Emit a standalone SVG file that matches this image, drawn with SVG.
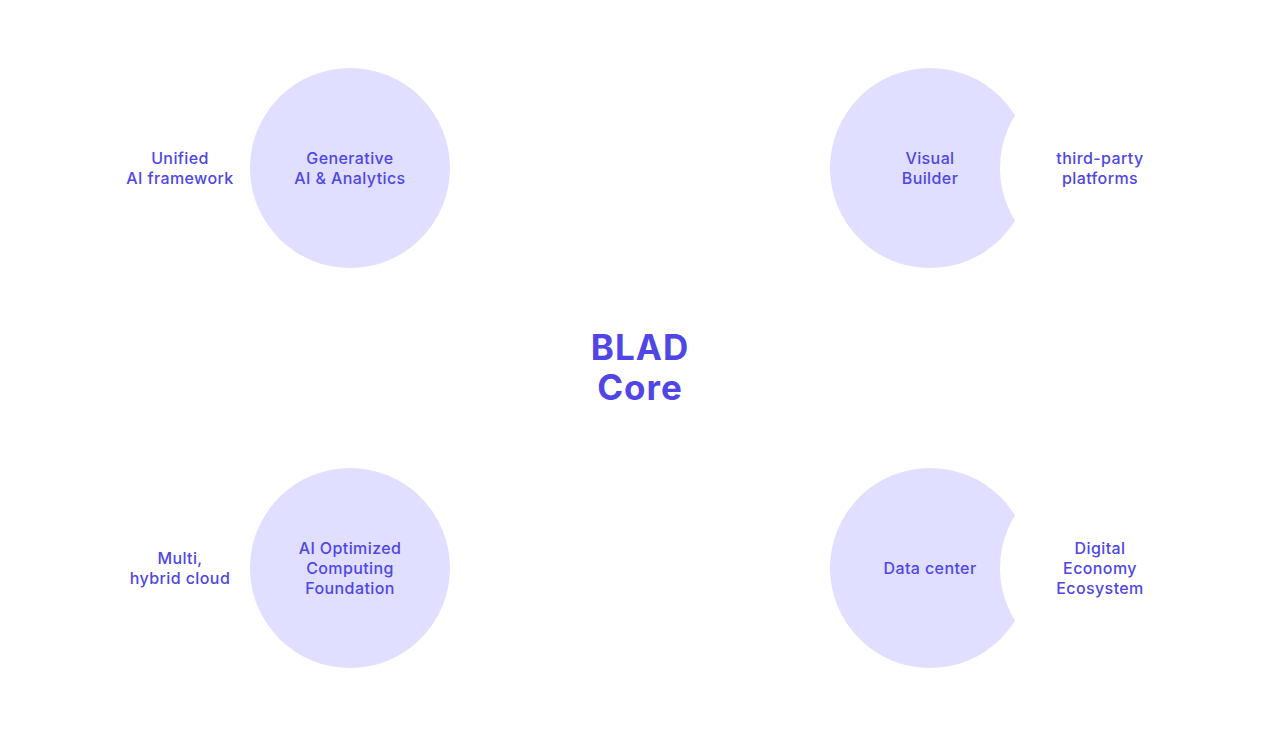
<svg xmlns="http://www.w3.org/2000/svg" width="1280" height="736" viewBox="0 0 1280 736">
<defs>
<style>
.bg{fill:#ffffff}
.main{fill:#e0dfff}
.sat{fill:#ffffff}
.lbl{font-family:Inter,"Open Sans",sans-serif;font-size:16px;font-weight:500;fill:#4f46e5;text-anchor:middle;letter-spacing:0.4px}
.core{font-family:Inter,"Open Sans",sans-serif;font-size:35px;font-weight:700;fill:#4f46e5;text-anchor:middle;letter-spacing:1px}
</style>
</defs>
<rect class="bg" width="1280" height="736"/>
<g id="connectors"></g>
<g id="core">
<text class="core" x="640" y="360">BLAD</text>
<text class="core" x="640" y="400">Core</text>
</g>
<g id="node-genai">
<circle class="sat" cx="180" cy="168" r="100"/>
<circle class="main" cx="350" cy="168" r="100"/>
<text class="lbl" x="350" y="164">Generative</text>
<text class="lbl" x="350" y="184">AI &amp; Analytics</text>
<text class="lbl" x="180" y="164">Unified</text>
<text class="lbl" x="180" y="184">AI framework</text>
</g>
<g id="node-visual">
<circle class="main" cx="930" cy="168" r="100"/>
<circle class="sat" cx="1100" cy="168" r="100"/>
<text class="lbl" x="930" y="164">Visual</text>
<text class="lbl" x="930" y="184">Builder</text>
<text class="lbl" x="1100" y="164">third-party</text>
<text class="lbl" x="1100" y="184">platforms</text>
</g>
<g id="node-compute">
<circle class="sat" cx="180" cy="568" r="100"/>
<circle class="main" cx="350" cy="568" r="100"/>
<text class="lbl" x="350" y="554">AI Optimized</text>
<text class="lbl" x="350" y="574">Computing</text>
<text class="lbl" x="350" y="594">Foundation</text>
<text class="lbl" x="180" y="564">Multi,</text>
<text class="lbl" x="180" y="584">hybrid cloud</text>
</g>
<g id="node-datacenter">
<circle class="main" cx="930" cy="568" r="100"/>
<circle class="sat" cx="1100" cy="568" r="100"/>
<text class="lbl" x="930" y="574">Data center</text>
<text class="lbl" x="1100" y="554">Digital</text>
<text class="lbl" x="1100" y="574">Economy</text>
<text class="lbl" x="1100" y="594">Ecosystem</text>
</g>
</svg>
